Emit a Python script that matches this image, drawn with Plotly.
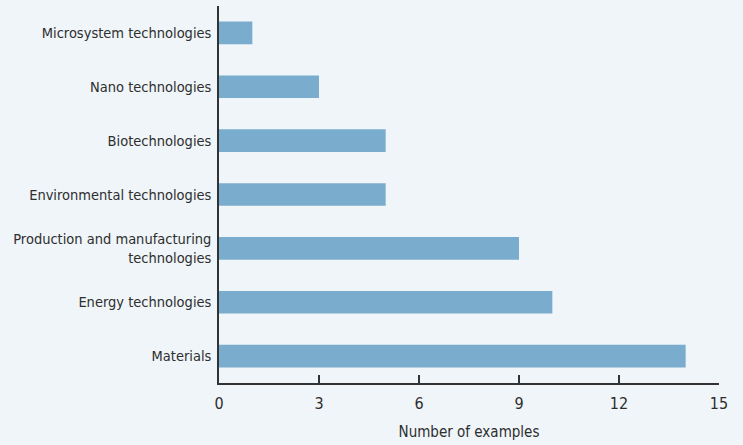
import plotly.graph_objects as go

categories = ["Materials", "Energy technologies", "Production and manufacturing<br>technologies",
              "Environmental technologies", "Biotechnologies", "Nano technologies",
              "Microsystem technologies"]
values = [14, 10, 9, 5, 5, 3, 1]
tick_vals = [0, 3, 6, 9, 12, 15]

FONT = "DejaVu Sans Condensed, Liberation Sans Narrow, Arial Narrow, sans-serif"
BG = "#EFF5F9"

fig = go.Figure(go.Bar(
    x=values, y=categories, orientation="h",
    marker=dict(color="#7AADCD", line=dict(width=0)),
    width=0.42,
))

fig.update_layout(
    width=743, height=445,
    margin=dict(l=219, r=24, t=6, b=62),
    paper_bgcolor=BG, plot_bgcolor=BG,
    font=dict(family=FONT, size=14.5, color="#2E2E2E"),
    showlegend=False,
)
fig.update_xaxes(
    range=[0, 15], tickvals=tick_vals, ticks="inside", ticklen=8, tickwidth=1.5,
    tickcolor="#333333", showline=True, linecolor="#333333", linewidth=1.5,
    showgrid=False, zeroline=False, automargin=False, ticklabelstandoff=5,
    title=dict(text="Number of examples", font=dict(size=15), standoff=15),
    tickfont=dict(size=16),
)
fig.update_yaxes(
    categoryorder="array", categoryarray=categories, range=[-0.5, 6.5],
    showline=True, linecolor="#333333", linewidth=1.5, showgrid=False,
    zeroline=False, ticks="", ticklabelstandoff=3, automargin=False,
    tickfont=dict(size=14.5),
)

fig.write_html("out.html", config={"displayModeBar": False},
               post_script="document.body.style.margin='0';document.body.style.background='%s';" % BG)
